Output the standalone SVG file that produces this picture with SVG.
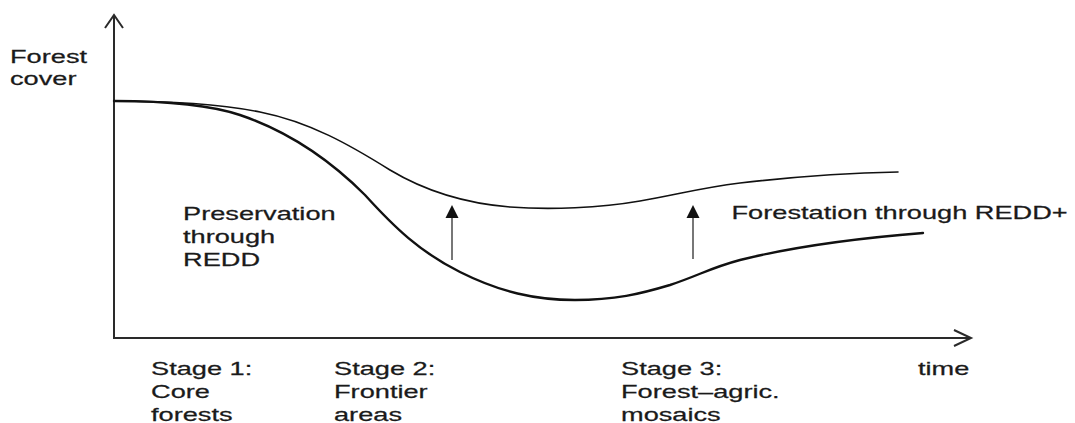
<svg xmlns="http://www.w3.org/2000/svg" width="1075" height="423" viewBox="0 0 1075 423">
  <style>
    .lbl { font-family: "Liberation Sans", Arial, sans-serif; font-size: 18.5px; fill: #1a1a1a; stroke: #1a1a1a; stroke-width: 0.25; }
    .axis { fill: none; stroke: #2a2a2a; stroke-width: 2; }
    .curve { fill: none; stroke: #111; stroke-linecap: round; }
    .shaft { stroke: #555; stroke-width: 1.6; }
    .head { fill: #111; }
  </style>
  <rect width="1075" height="423" fill="#ffffff"/>

  <!-- axes -->
  <g id="axes">
    <line class="axis" x1="114" y1="339" x2="114" y2="16"/>
    <polyline class="axis" points="105,28 114,15 123,28"/>
    <line class="axis" x1="113" y1="338" x2="970" y2="338"/>
    <polyline class="axis" points="954,330 971,338 954,346"/>
  </g>

  <!-- forest cover trajectories -->
  <g id="curves">
    <path id="with-redd" class="curve" stroke-width="1.6"
          d="M114,101 C170,101 220,104 260,112 C310,122 350,145 390,170 C420,188 460,203 510,207 C550,210 600,208 640,201 C680,194 700,188 740,183 C800,176 850,173 898,172"/>
    <path id="baseline" class="curve" stroke-width="2.4"
          d="M114,101 C170,101 210,105 240,115 C290,132 330,160 365,195 C395,228 420,252 460,272 C500,292 535,300 575,300 C615,300 640,294 670,285 C700,275 710,268 740,260 C800,245 860,238 923,233"/>
  </g>

  <!-- REDD effect arrows -->
  <g id="connectors">
    <g id="arrow-preservation">
      <line class="shaft" x1="452" y1="260" x2="452" y2="216"/>
      <polygon class="head" points="452,205 445.5,218 458.5,218"/>
    </g>
    <g id="arrow-forestation">
      <line class="shaft" x1="693" y1="259" x2="693" y2="216"/>
      <polygon class="head" points="693,205 686.5,218 699.5,218"/>
    </g>
  </g>

  <!-- labels -->
  <g id="y-label">
    <text class="lbl" transform="translate(10,62.5) scale(1.47,1)">Forest</text>
    <text class="lbl" transform="translate(10,85) scale(1.47,1)">cover</text>
  </g>
  <g id="preservation-label">
    <text class="lbl" transform="translate(183,220) scale(1.47,1)">Preservation</text>
    <text class="lbl" transform="translate(183,243) scale(1.47,1)">through</text>
    <text class="lbl" transform="translate(183,265.5) scale(1.47,1)">REDD</text>
  </g>
  <g id="forestation-label">
    <text class="lbl" transform="translate(731.5,219) scale(1.47,1)">Forestation through REDD+</text>
  </g>
  <g id="stage1">
    <text class="lbl" transform="translate(151,375) scale(1.47,1)">Stage 1:</text>
    <text class="lbl" transform="translate(151,398) scale(1.47,1)">Core</text>
    <text class="lbl" transform="translate(151,420.5) scale(1.47,1)">forests</text>
  </g>
  <g id="stage2">
    <text class="lbl" transform="translate(334,375) scale(1.47,1)">Stage 2:</text>
    <text class="lbl" transform="translate(334,398) scale(1.47,1)">Frontier</text>
    <text class="lbl" transform="translate(334,420.5) scale(1.47,1)">areas</text>
  </g>
  <g id="stage3">
    <text class="lbl" transform="translate(621,375) scale(1.47,1)">Stage 3:</text>
    <text class="lbl" transform="translate(621,398) scale(1.47,1)">Forest–agric.</text>
    <text class="lbl" transform="translate(621,420.5) scale(1.47,1)">mosaics</text>
  </g>
  <g id="x-label">
    <text class="lbl" transform="translate(918,375) scale(1.47,1)">time</text>
  </g>
</svg>
